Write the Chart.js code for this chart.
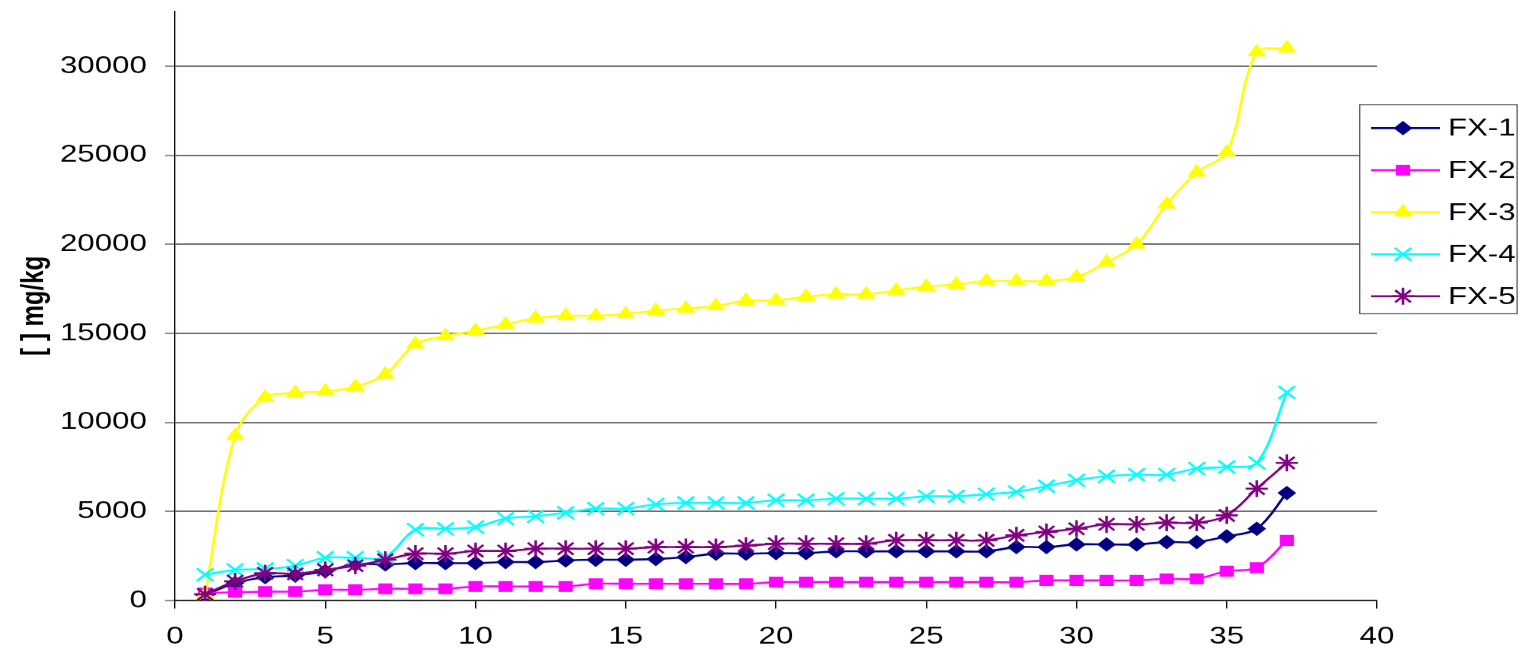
<!DOCTYPE html>
<html>
<head>
<meta charset="utf-8">
<script src="https://cdn.jsdelivr.net/npm/chart.js@4/dist/chart.umd.min.js"></script>
<style>
  html, body { margin: 0; padding: 0; background: #fff; overflow: hidden; }
  #wrap { width: 1168px; height: 649px; transform: scaleX(1.29966); transform-origin: 0 0; }
  canvas { display: block; }
</style>
</head>
<body>
<div id="wrap"><canvas id="c" width="1168" height="649"></canvas></div>
<script>
// sample index 1..37
const samples = Array.from({ length: 37 }, (_, i) => i + 1);

const seriesNames = ['FX-1', 'FX-2', 'FX-3', 'FX-4', 'FX-5'];

const fx1 = [300, 980, 1310, 1400, 1650, 2030, 2030, 2100, 2100, 2100, 2160, 2160, 2250, 2290, 2290, 2330, 2440, 2630, 2630,
             2660, 2660, 2760, 2760, 2760, 2760, 2760, 2760, 3000, 3000, 3150, 3150, 3150, 3280, 3280, 3600, 4030, 6040];
const fx2 = [420, 465, 500, 500, 600, 600, 660, 660, 660, 790, 790, 790, 790, 940, 940, 940, 940, 940, 940,
             1030, 1030, 1030, 1030, 1030, 1030, 1030, 1030, 1030, 1130, 1130, 1130, 1130, 1220, 1220, 1650, 1840, 3380];
const fx3 = [350, 9250, 11400, 11650, 11750, 12000, 12700, 14400, 14850, 15150, 15500, 15850, 15990, 15990, 16090, 16270, 16400, 16540, 16840,
             16850, 17060, 17190, 17190, 17410, 17620, 17750, 17940, 17940, 17940, 18160, 18990, 20000, 22250, 24040, 25170, 30790, 31010];
const fx4 = [1450, 1720, 1770, 1960, 2400, 2400, 2440, 3980, 4030, 4130, 4600, 4730, 4930, 5160, 5160, 5400, 5480, 5480, 5480,
             5630, 5630, 5720, 5720, 5720, 5850, 5850, 5970, 6100, 6420, 6750, 6980, 7070, 7070, 7410, 7500, 7730, 11690];
const fx5 = [350, 1080, 1530, 1500, 1720, 1960, 2290, 2630, 2630, 2780, 2780, 2910, 2910, 2910, 2910, 3000, 3000, 3000, 3080,
             3190, 3190, 3190, 3190, 3380, 3380, 3380, 3380, 3660, 3850, 4030, 4280, 4280, 4370, 4370, 4780, 6280, 7730];

const xTicks = [0, 5, 10, 15, 20, 25, 30, 35, 40];
const yTicks = [0, 5000, 10000, 15000, 20000, 25000, 30000];
const yTitle = '[ ] mg/kg';

const colors = ['#000080', '#FF00FF', '#FFFF00', '#00FFFF', '#800080'];
const markers = [
  { pointStyle: 'rectRot', radius: 6.5, borderWidth: 1 },
  { pointStyle: 'rect', radius: 7, borderWidth: 1 },
  { pointStyle: 'triangle', radius: 7.5, borderWidth: 1 },
  { pointStyle: 'crossRot', radius: 9, borderWidth: 2 },
  { pointStyle: 'star', radius: 8.5, borderWidth: 2 }
];
const allValues = [fx1, fx2, fx3, fx4, fx5];

const datasets = allValues.map((vals, i) => ({
  label: seriesNames[i],
  data: samples.map((s, k) => ({ x: s, y: vals[k] })),
  borderColor: colors[i],
  backgroundColor: colors[i],
  borderWidth: 2,
  tension: 0.35,
  pointStyle: markers[i].pointStyle,
  pointRadius: markers[i].radius,
  pointBorderWidth: markers[i].borderWidth,
  pointBackgroundColor: colors[i],
  pointBorderColor: colors[i],
  order: allValues.length - i
}));

// boxed legend at the right edge, overlapping the plot's right end
const boxLegend = {
  id: 'boxLegend',
  afterDraw(chart) {
    const ctx = chart.ctx;
    const left = 1045.4, top = 104, right = 1167.5, bottom = 314;
    ctx.save();
    ctx.fillStyle = '#ffffff';
    ctx.fillRect(left, top, right - left, bottom - top);
    ctx.strokeStyle = '#555555';
    ctx.lineWidth = 1;
    ctx.strokeRect(left + 0.5, top + 0.5, right - left - 1, bottom - top - 1);
    const rowY = [128, 170, 212, 254, 296];
    seriesNames.forEach((name, i) => {
      const y = rowY[i];
      ctx.strokeStyle = colors[i];
      ctx.lineWidth = 2;
      ctx.beginPath();
      ctx.moveTo(1054.6, y);
      ctx.lineTo(1107.7, y);
      ctx.stroke();
      ctx.fillStyle = colors[i];
      ctx.strokeStyle = colors[i];
      ctx.lineWidth = markers[i].borderWidth;
      Chart.helpers.drawPoint(ctx, {
        pointStyle: markers[i].pointStyle,
        radius: markers[i].radius,
        borderWidth: markers[i].borderWidth,
        rotation: 0
      }, 1079.2, y);
      ctx.fillStyle = '#000000';
      ctx.font = '24px "Liberation Sans", Arial, sans-serif';
      ctx.textAlign = 'left';
      ctx.textBaseline = 'middle';
      ctx.fillText(name, 1113.8, y + 1);
    });
    ctx.restore();
  }
};

new Chart(document.getElementById('c'), {
  type: 'line',
  data: { datasets },
  plugins: [boxLegend],
  options: {
    responsive: false,
    animation: false,
    devicePixelRatio: 1.3,
    layout: { padding: { left: 0, right: 108.8, top: 8, bottom: 0 } },
    plugins: { legend: { display: false }, tooltip: { enabled: false } },
    scales: {
      x: {
        type: 'linear',
        min: 0,
        max: 40,
        afterBuildTicks(scale) { scale.ticks = xTicks.map(v => ({ value: v })); },
        afterFit(scale) {
          scale.height = 49;
          scale.paddingLeft = 0;
          scale.paddingRight = 0;
        },
        grid: { drawOnChartArea: false, drawTicks: true, tickLength: 8, color: '#000000', lineWidth: 1 },
        border: { display: true, color: '#000000', width: 1 },
        ticks: {
          color: '#000000',
          padding: 14,
          maxRotation: 0,
          font: { family: '"Liberation Sans", Arial, sans-serif', size: 24 }
        }
      },
      y: {
        type: 'linear',
        min: 0,
        max: 33100,
        afterBuildTicks(scale) { scale.ticks = yTicks.map(v => ({ value: v })); },
        afterFit(scale) {
          scale.width = 134.6;
          scale.paddingTop = 0;
          scale.paddingBottom = 0;
        },
        grid: { color: '#707070', lineWidth: 1.6, tickLength: 7.7, tickColor: '#505050', tickWidth: 1 },
        border: { display: true, color: '#000000', width: 1 },
        ticks: {
          color: '#000000',
          padding: 14,
          font: { family: '"Liberation Sans", Arial, sans-serif', size: 24 },
          callback: v => String(v)
        },
        title: {
          display: true,
          text: yTitle,
          color: '#000000',
          padding: { top: 12, bottom: 0 },
          font: { family: '"Liberation Sans", Arial, sans-serif', size: 24, weight: 'bold' }
        }
      }
    }
  }
});
</script>
</body>
</html>
